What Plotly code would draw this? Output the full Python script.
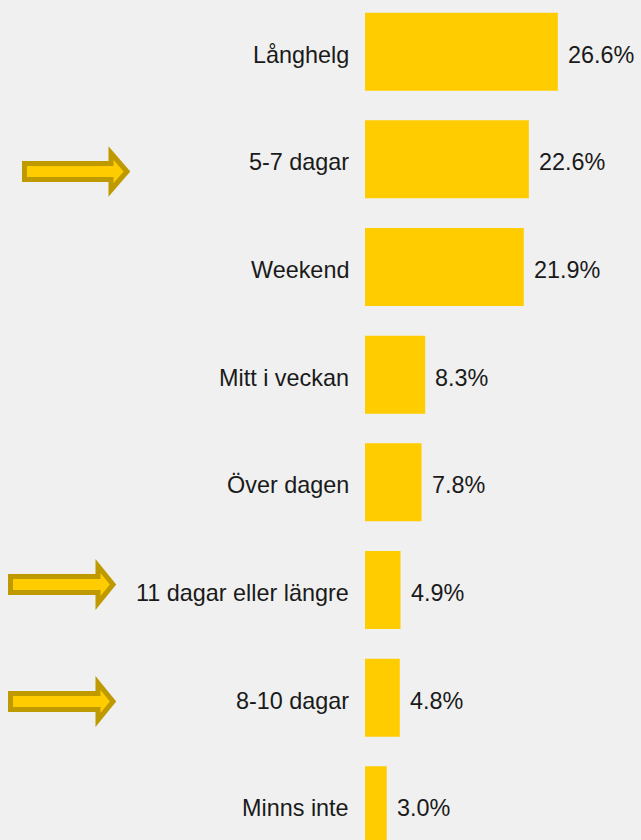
import plotly.graph_objects as go

categories = ["Långhelg", "5-7 dagar", "Weekend", "Mitt i veckan", "Över dagen",
              "11 dagar eller längre", "8-10 dagar", "Minns inte"]
values = [26.6, 22.6, 21.9, 8.3, 7.8, 4.9, 4.8, 3.0]
value_labels = ["26.6%", "22.6%", "21.9%", "8.3%", "7.8%", "4.9%", "4.8%", "3.0%"]
highlighted = ["5-7 dagar", "11 dagar eller längre", "8-10 dagar"]

W, H = 641, 840
ML = 365
PW = W - ML
BG = "#F0F0F0"
BAR = "#FFCC00"
EDGE = "#BF9900"
FONT = "Liberation Sans, Arial, sans-serif"
TXT = "#1a1a1a"
FS = 23.4

idx = list(range(len(categories)))

fig = go.Figure()
fig.add_trace(go.Bar(
    x=values, y=idx, orientation="h", width=0.7245,
    marker=dict(color=BAR, line=dict(width=0)),
    hoverinfo="skip",
))

for i, (v, lab) in enumerate(zip(values, value_labels)):
    fig.add_annotation(x=v, y=i, text=lab, showarrow=False, xanchor="left",
                       yanchor="middle", xshift=8, yshift=-3,
                       font=dict(family=FONT, size=FS, color=TXT))

for i, cat in enumerate(categories):
    fig.add_annotation(x=0, y=i, text=cat, showarrow=False, xanchor="right",
                       yanchor="middle", xshift=-14, yshift=-3,
                       font=dict(family=FONT, size=FS, color=TXT))

# arrows (decorations) in pixel geometry -> paper coords
def px2paper(px, py):
    return (px - ML) / PW, 1 - py / H

arrow_geom = {  # category -> (left, head_base, tip)
    "5-7 dagar": (24.5, 111, 127),
    "11 dagar eller längre": (10.5, 98, 113),
    "8-10 dagar": (10.5, 98, 113),
}
arrow_cy = {"5-7 dagar": 171.5, "11 dagar eller längre": 584.5, "8-10 dagar": 701.5}
for cat in highlighted:
    x0, xh, xt = arrow_geom[cat]
    cy = arrow_cy[cat]
    pts = [(x0, cy - 8), (xh, cy - 8), (xh, cy - 18.5), (xt, cy),
           (xh, cy + 18.5), (xh, cy + 8), (x0, cy + 8)]
    pp = [px2paper(a, b) for a, b in pts]
    path = "M " + " L ".join(f"{a:.5f},{b:.5f}" for a, b in pp) + " Z"
    fig.add_shape(type="path", xref="paper", yref="paper", path=path,
                  fillcolor=BAR, line=dict(color=EDGE, width=5), layer="above")

fig.update_layout(
    width=W, height=H,
    margin=dict(l=ML, r=0, t=0, b=0, pad=0),
    paper_bgcolor=BG, plot_bgcolor=BG,
    showlegend=False,
    xaxis=dict(range=[0, PW / 7.25], visible=False, showgrid=False, zeroline=False),
    yaxis=dict(range=[7.322, -0.480], showticklabels=False,
               showgrid=False, zeroline=False, showline=False, ticks=""),
)

fig.write_html("out.html", config={"displayModeBar": False},
               post_script="document.body.style.margin='0';document.body.style.background='#F0F0F0';")
